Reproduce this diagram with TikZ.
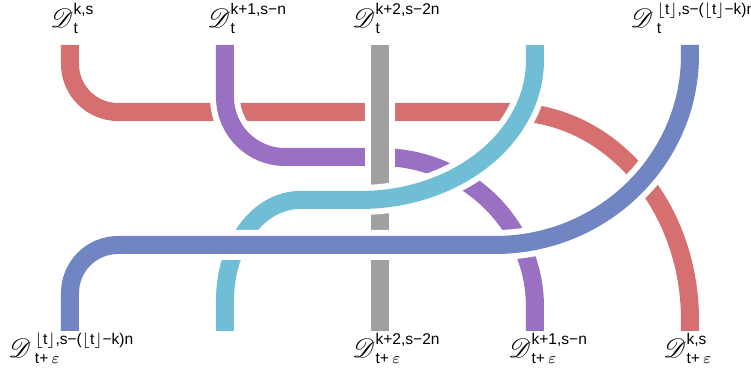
\documentclass[tikz,border=0pt]{standalone}
\usepackage{amsmath}
\usepackage{mathrsfs}
\usepackage{fontspec}
\setsansfont{Liberation Sans}
\usepackage{xcolor}
\usepackage{tikz}

\definecolor{strandred}{RGB}{214,112,112}
\definecolor{strandpurple}{RGB}{153,112,194}
\definecolor{strandgray}{RGB}{160,160,160}
\definecolor{strandcyan}{RGB}{112,189,214}
\definecolor{strandblue}{RGB}{112,133,194}
\newcommand{\sfx}[1]{\text{\sffamily #1}}
\newcommand{\flr}{$\lfloor$t$\rfloor$}
\newcommand{\Dsym}{\mbox{\fontsize{13}{13}\selectfont$\mathscr{D}$}}

\begin{document}
\begin{tikzpicture}[
    x=0.45pt, y=-0.45pt,
    strand/.style={draw=white, line width=2.7pt, double=#1, double distance=8.1pt},
    lbl/.style={anchor=base west, inner sep=0pt, font=\normalsize}
]
\useasboundingbox (0,0) rectangle (751,378);
% ends of the strands
\coordinate (r0) at (70,45);  \coordinate (r1) at (690,331);
\coordinate (p0) at (225,45); \coordinate (p1) at (535,331);
\coordinate (g0) at (380,45); \coordinate (g1) at (380,331);
\coordinate (c0) at (535,45); \coordinate (c1) at (225,331);
\coordinate (b0) at (690,45); \coordinate (b1) at (70,331);

% strands, lowest first
\draw[strand=strandred] (r0) -- (70,64) arc[start angle=180, end angle=90, radius=48]
    -- (510,112) arc[start angle=270, end angle=360, x radius=180, y radius=208] -- (r1);
\draw[strand=strandpurple] (p0) -- (225,97) arc[start angle=180, end angle=90, radius=60]
    -- (380,157) arc[start angle=270, end angle=360, x radius=155, y radius=150] -- (p1);
\draw[strand=strandgray] (g0) -- (g1);
\draw[strand=strandcyan] (c0) -- (535,60) arc[start angle=0, end angle=90, x radius=175, y radius=140]
    -- (300,200) arc[start angle=270, end angle=180, x radius=75, y radius=100] -- (c1);
\draw[strand=strandblue] (b0) -- (690,55) arc[start angle=0, end angle=90, x radius=195, y radius=190]
    -- (118,245) arc[start angle=270, end angle=180, radius=48] -- (b1);

% labels
\node[lbl] (lr0) at (50,28)  {$\Dsym^{\sfx{k,s}}_{\sfx{t}}$};
\node[lbl] (lp0) at (207,28) {$\Dsym^{\sfx{k+1,s−n}}_{\sfx{t}}$};
\node[lbl] (lg0) at (352,28) {$\Dsym^{\sfx{k+2,s−2n}}_{\sfx{t}}$};
\node[lbl] (lb0) at (630,28) {$\Dsym^{\kern1.5pt\sfx{\flr,s−(\flr−k)n}}_{\kern1.5pt\sfx{t}}$};
\node[lbl] (lb1) at (8,358)   {$\Dsym^{\kern1.5pt\sfx{\flr,s−(\flr−k)n}}_{\kern1.5pt\sfx{t+}\,\varepsilon}$};
\node[lbl] (lg1) at (352,358) {$\Dsym^{\sfx{k+2,s−2n}}_{\sfx{t+}\,\varepsilon}$};
\node[lbl] (lp1) at (508,358) {$\Dsym^{\sfx{k+1,s−n}}_{\sfx{t+}\,\varepsilon}$};
\node[lbl] (lr1) at (663,358) {$\Dsym^{\sfx{k,s}}_{\sfx{t+}\,\varepsilon}$};
\end{tikzpicture}
\end{document}
